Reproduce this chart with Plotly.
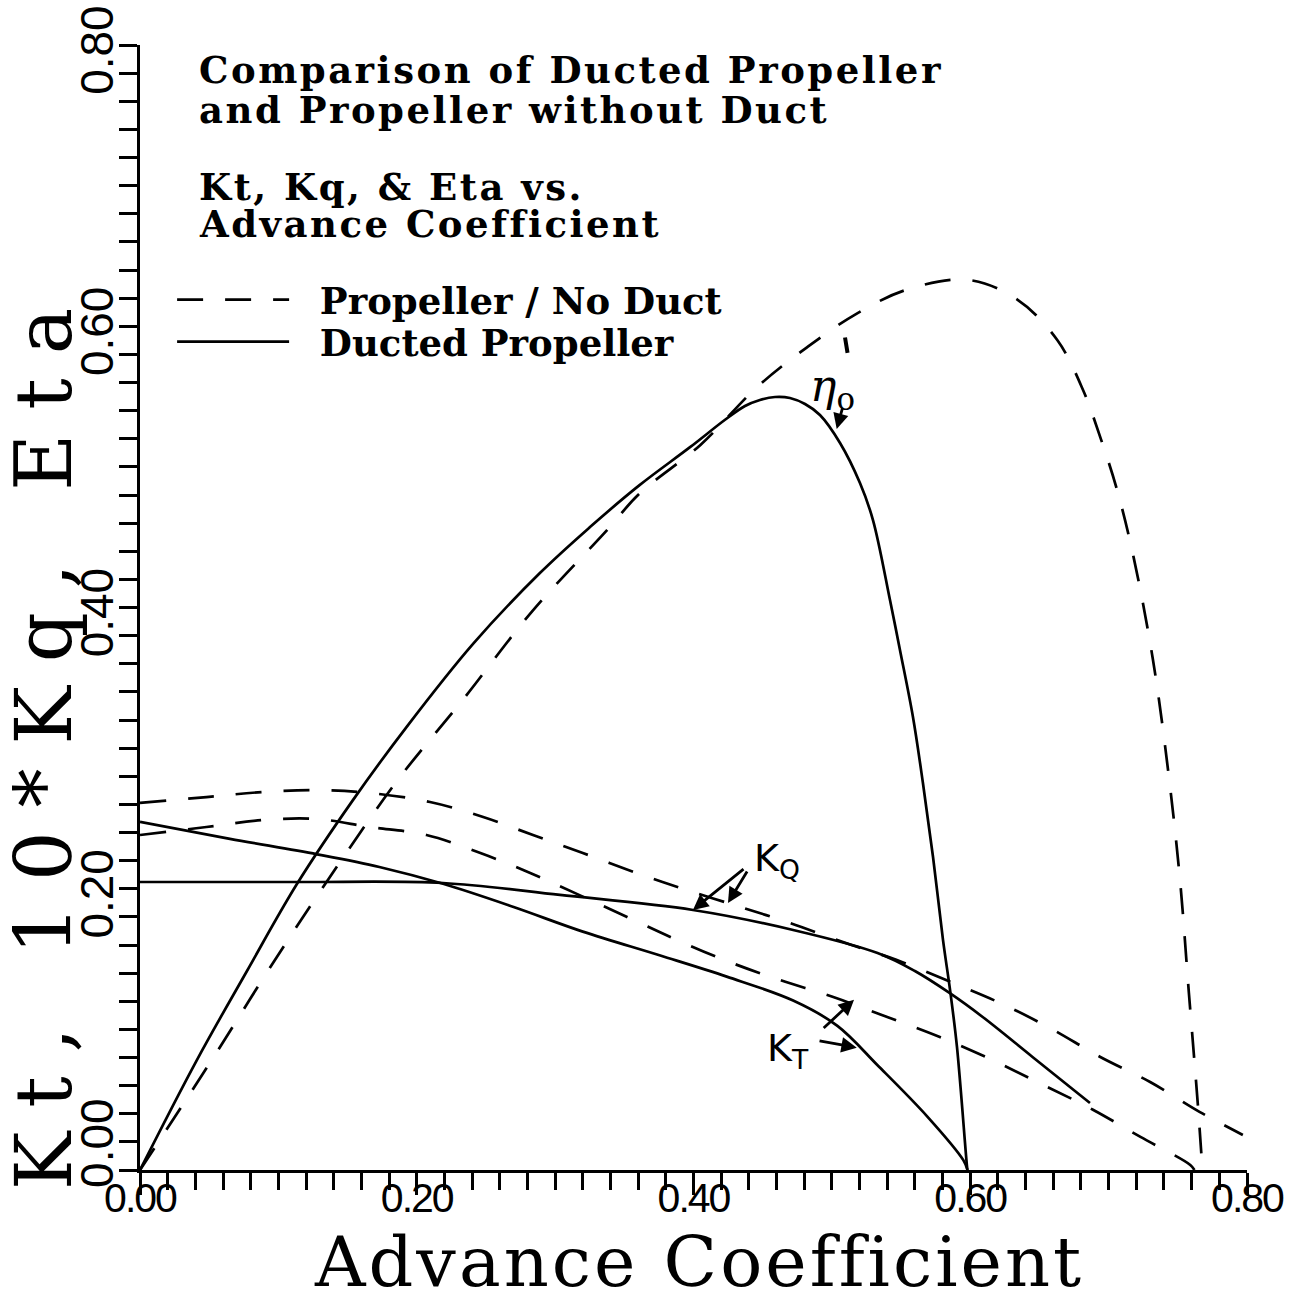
import plotly.graph_objects as go

# ---------------- data ----------------
# Ducted propeller (solid lines)
duct_eta_J = [0.0, 0.041, 0.077, 0.1135, 0.1535, 0.193, 0.241, 0.289, 0.325, 0.361,
              0.3975, 0.4228, 0.4372, 0.448, 0.4589, 0.4697, 0.4806, 0.4914, 0.5059,
              0.5203, 0.5297, 0.542, 0.5492, 0.5586, 0.5658, 0.5731, 0.5803, 0.5854,
              0.5904, 0.5977, 0.598]
duct_eta = [0.0, 0.078, 0.141, 0.2035, 0.2625, 0.3155, 0.3745, 0.4245, 0.457, 0.487,
            0.514, 0.5335, 0.5433, 0.5476, 0.5497, 0.549, 0.5447, 0.5369, 0.517,
            0.4885, 0.4622, 0.4053, 0.3698, 0.3221, 0.2752, 0.2226, 0.1636, 0.128,
            0.0875, 0.002, 0.0]

duct_kt_J = [0.0, 0.065, 0.128, 0.173, 0.219, 0.270, 0.320, 0.376, 0.424, 0.472, 0.504,
             0.533, 0.569, 0.595, 0.598]
duct_kt = [0.2475, 0.2355, 0.2245, 0.2155, 0.2035, 0.187, 0.1695, 0.1525, 0.1375, 0.1205,
           0.1025, 0.0745, 0.038, 0.007, 0.0]

duct_kq_J = [0.0, 0.1135, 0.219, 0.3035, 0.3996, 0.472, 0.533, 0.560, 0.585, 0.609, 0.645,
             0.6865]
duct_kq = [0.2048, 0.2048, 0.2041, 0.1956, 0.1849, 0.1707, 0.1543, 0.1415, 0.1259, 0.1088,
           0.0804, 0.0476]

# Propeller without duct (dashed lines)
nod_eta_J = [0.0, 0.053, 0.094, 0.137, 0.186, 0.233, 0.284, 0.3375, 0.361, 0.405, 0.446,
             0.482, 0.518, 0.554, 0.598, 0.634, 0.663, 0.6815, 0.694, 0.706, 0.718, 0.732,
             0.743, 0.7516, 0.758, 0.7646, 0.7675, 0.768]
nod_eta = [0.0, 0.080, 0.144, 0.208, 0.277, 0.334, 0.398, 0.455, 0.481, 0.5156, 0.5568,
           0.585, 0.609, 0.626, 0.633, 0.619, 0.590, 0.5547, 0.521, 0.484, 0.436, 0.363,
           0.284, 0.206, 0.126, 0.045, 0.005, 0.0]

nod_kt_J = [0.0, 0.048, 0.089, 0.128, 0.166, 0.207, 0.246, 0.282, 0.352, 0.388, 0.426,
            0.4625, 0.501, 0.540, 0.578, 0.616, 0.653, 0.689, 0.723, 0.759, 0.762]
nod_kt = [0.2382, 0.2439, 0.2489, 0.2496, 0.2439, 0.2382, 0.2254, 0.2112, 0.1799, 0.1636,
          0.1479, 0.1351, 0.123, 0.1088, 0.0946, 0.0782, 0.0604, 0.0427, 0.0235, 0.0036, 0.0]

nod_kq_J = [0.0, 0.048, 0.089, 0.128, 0.166, 0.2096, 0.248, 0.284, 0.320, 0.359, 0.395,
            0.434, 0.470, 0.508, 0.547, 0.5875, 0.6215, 0.6576, 0.694, 0.730, 0.766, 0.797]
nod_kq = [0.261, 0.2652, 0.2688, 0.2702, 0.2681, 0.2617, 0.251, 0.2382, 0.2254, 0.2112,
          0.1991, 0.187, 0.1756, 0.1621, 0.1493, 0.133, 0.1188, 0.101, 0.0804, 0.0626,
          0.0412, 0.0249]

x_tickvals = [0.0, 0.2, 0.4, 0.6, 0.8]
x_ticktext = ["0.00", "0.20", "0.40", "0.60", "0.80"]
y_tickvals = [0.0, 0.2, 0.4, 0.6, 0.8]
y_ticktext = ["0.00", "0.20", "0.40", "0.60", "0.80"]

series_names = ["Propeller / No Duct", "Ducted Propeller"]
title_lines = ["Comparison of Ducted Propeller", "and Propeller without Duct",
               "Kt, Kq, & Eta vs.", "Advance Coefficient"]
x_title = "Advance Coefficient"
y_title = "Kt, 10*Kq, Eta"

# ---------------- figure ----------------
DASH = "26px,22px"
LW = 2.7
NB = "\u00a0\u00a0"
fig = go.Figure()


def add(xs, ys, dashed, show):
    fig.add_trace(go.Scatter(
        x=xs, y=ys, mode="lines",
        line=dict(color="black", width=LW, dash=DASH if dashed else "solid",
                  shape="spline", smoothing=1.0),
        name=NB + (series_names[0] if dashed else series_names[1]),
        legend="legend" if dashed else "legend2",
        showlegend=show, hoverinfo="skip"))


add(nod_eta_J, nod_eta, True, True)
add(duct_eta_J, duct_eta, False, True)
add(nod_kt_J, nod_kt, True, False)
add(nod_kq_J, nod_kq, True, False)
add(duct_kt_J, duct_kt, False, False)
add(duct_kq_J, duct_kq, False, False)


def spaced(t, px):
    return '<span style="letter-spacing:%spx">%s</span>' % (px, t)


text_font = dict(family="DejaVu Serif", size=37, color="black", weight="bold")
title_y = [0.782, 0.754, 0.699, 0.673]
annotations = []
for t, yy in zip(title_lines, title_y):
    annotations.append(dict(x=0.041, y=yy, xref="x", yref="y", text=spaced(t, 2.5),
                            showarrow=False, xanchor="left", yanchor="middle",
                            font=text_font))

# axis titles (placed as annotations to match the reference positions)
annotations.append(dict(x=0.505, y=-0.082, xref="paper", yref="paper",
                        text=spaced(x_title, 3), showarrow=False,
                        xanchor="center", yanchor="middle",
                        font=dict(family="DejaVu Serif", size=70, color="black")))
annotations.append(dict(x=-0.0867, y=0.385, xref="paper", yref="paper",
                        text=spaced(y_title, 24), showarrow=False, textangle=-90,
                        xanchor="center", yanchor="middle",
                        font=dict(family="DejaVu Serif", size=78, color="black")))

hand_font = dict(family="DejaVu Sans", size=38, color="black")
arrow_kw = dict(text="", showarrow=True, arrowhead=2, arrowsize=1.1, arrowwidth=2.8,
                arrowcolor="black", axref="x", ayref="y")
# K_Q label + arrows
annotations.append(dict(x=0.442, y=0.2204, text="K<sub>Q</sub>", showarrow=False,
                        xanchor="left", yanchor="middle", font=hand_font))
annotations.append(dict(x=0.3996, y=0.1849, ax=0.4372, ay=0.2148, **arrow_kw))
annotations.append(dict(x=0.4249, y=0.1899, ax=0.4394, ay=0.2133, **arrow_kw))
# K_T label + arrows
annotations.append(dict(x=0.4517, y=0.0853, text="K<sub>T</sub>", showarrow=False,
                        xanchor="left", yanchor="middle", font=hand_font))
annotations.append(dict(x=0.516, y=0.121, ax=0.493, ay=0.100, **arrow_kw))
annotations.append(dict(x=0.518, y=0.087, ax=0.490, ay=0.092, **arrow_kw))
# eta_o label + arrows
annotations.append(dict(x=0.4827, y=0.556, text="<i>η</i><sub>o</sub>", showarrow=False,
                        xanchor="left", yanchor="middle",
                        font=dict(family="DejaVu Serif", size=44, color="black")))
annotations.append(dict(x=0.5095, y=0.592, ax=0.5115, ay=0.580, text="", showarrow=True,
                        arrowhead=0, arrowwidth=4, arrowcolor="black",
                        axref="x", ayref="y"))
annotations.append(dict(x=0.5035, y=0.527, ax=0.508, ay=0.543, **arrow_kw))

legend_font = dict(family="DejaVu Serif", size=37, color="black", weight="bold")
legend_common = dict(xanchor="left", yanchor="middle", bgcolor="rgba(0,0,0,0)",
                     borderwidth=0, itemwidth=112, font=legend_font, itemclick=False,
                     itemdoubleclick=False)

# the first y label sits a little higher in the reference: pad it on its leading side
y_ticklabels = ["\u00a0" * 5 + y_ticktext[0]] + y_ticktext[1:]

fig.update_layout(
    width=1294, height=1304,
    margin=dict(l=140, r=47, t=45, b=134, pad=0),
    paper_bgcolor="white", plot_bgcolor="white",
    showlegend=True,
    legend=dict(x=0.029, y=0.7733, **legend_common),
    legend2=dict(x=0.029, y=0.736, **legend_common),
    annotations=annotations,
    xaxis=dict(range=[0, 0.8], showgrid=False, zeroline=False, showline=True,
               linecolor="black", linewidth=3, mirror=False, automargin=False,
               ticks="outside", ticklen=22, tickwidth=3, tickcolor="black",
               tickvals=x_tickvals,
               ticktext=['<span style="letter-spacing:-2px">%s</span>' % t
                         for t in x_ticktext],
               ticklabelstandoff=-32, ticklabeloverflow="allow",
               tickfont=dict(family="Liberation Sans", size=41, color="black"),
               minor=dict(dtick=0.02, ticks="outside", ticklen=17, tickwidth=2.5,
                          tickcolor="black", showgrid=False)),
    yaxis=dict(range=[0, 0.8], showgrid=False, zeroline=False, showline=True,
               linecolor="black", linewidth=3, mirror=False, automargin=False,
               ticks="outside", ticklen=18, tickwidth=3, tickcolor="black",
               tickvals=y_tickvals, ticktext=y_ticklabels, tickangle=-90,
               ticklabeloverflow="allow", ticklabelstandoff=-12, ticklabelshift=12,
               tickfont=dict(family="Liberation Sans", size=46, color="black"),
               minor=dict(dtick=0.02, ticks="outside", ticklen=18, tickwidth=2.5,
                          tickcolor="black", showgrid=False)),
)

fig.write_html("out.html")
